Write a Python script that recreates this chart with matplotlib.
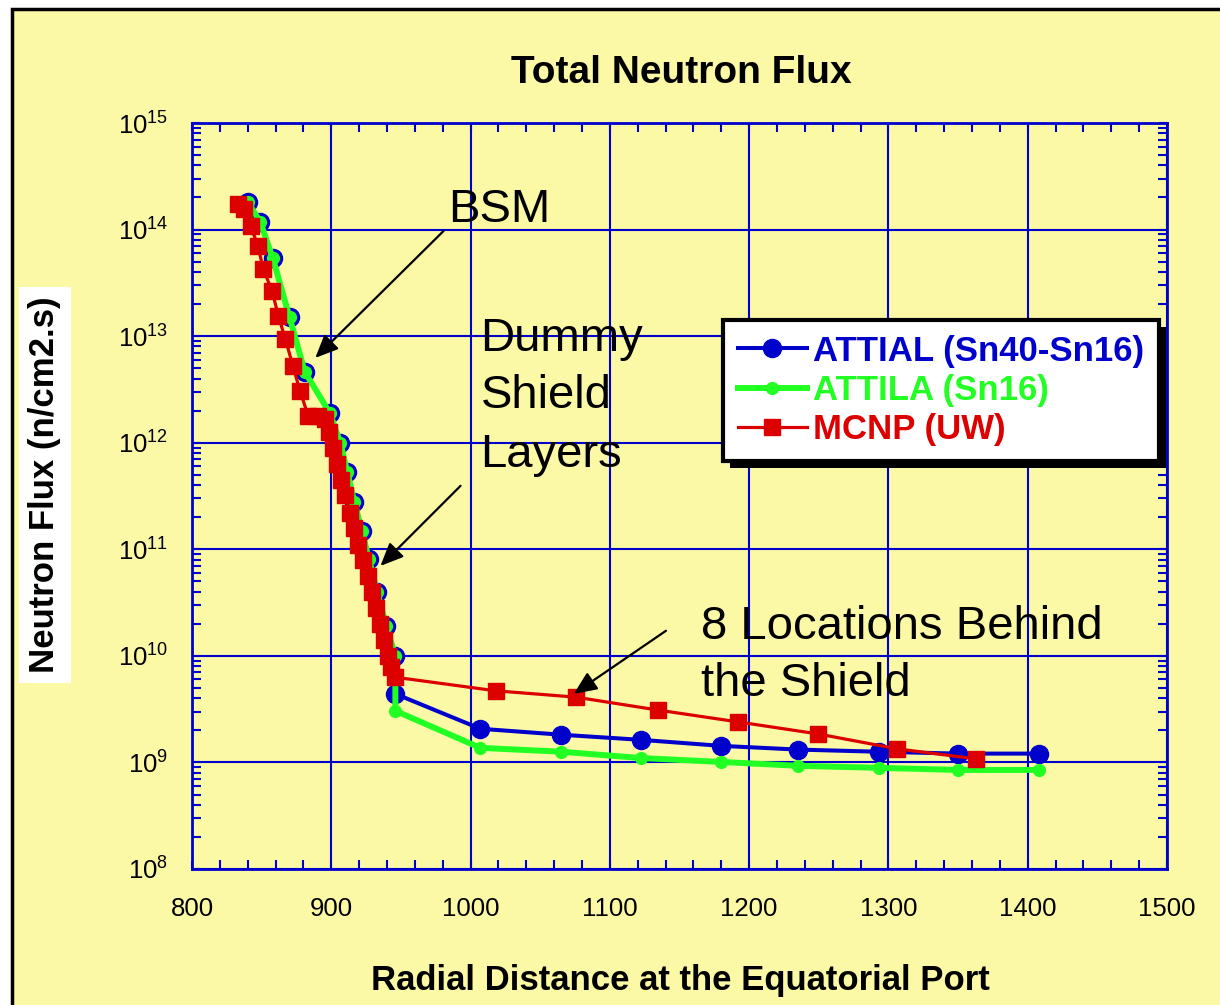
import matplotlib
matplotlib.use('Agg')
import matplotlib.pyplot as plt
from matplotlib.patches import Rectangle
from matplotlib.ticker import MultipleLocator, LogLocator, NullFormatter

plt.rcParams['font.family'] = ['Liberation Sans', 'DejaVu Sans']
plt.rcParams['mathtext.fontset'] = 'custom'
plt.rcParams['mathtext.rm'] = 'Liberation Sans'
plt.rcParams['mathtext.it'] = 'Liberation Sans:italic'
plt.rcParams['mathtext.bf'] = 'Liberation Sans:bold'

# datos
attial_x = [840, 849, 858, 870, 881, 899, 906.5, 911.5, 916.5, 922, 927, 933, 939.5, 946, 946,
            1007, 1065, 1122, 1180, 1235, 1293, 1350, 1408]
attial_y = [1.82e14, 1.18e14, 5.4e13, 1.51e13, 4.6e12, 1.9e12, 1.0e12, 5.3e11, 2.8e11, 1.48e11,
            8.1e10, 4.0e10, 1.9e10, 1.0e10, 4.4e9,
            2.07e9, 1.82e9, 1.63e9, 1.43e9, 1.32e9, 1.26e9, 1.21e9, 1.21e9]

attila_x = [840, 849, 858, 870, 881, 899, 906.5, 911.5, 916.5, 922, 927, 933, 939.5, 946, 946,
            1007, 1065, 1122, 1180, 1235, 1293, 1350, 1408]
attila_y = [1.82e14, 1.18e14, 5.4e13, 1.51e13, 4.6e12, 1.9e12, 1.0e12, 5.3e11, 2.8e11, 1.48e11,
            8.1e10, 4.0e10, 1.9e10, 1.0e10, 3.05e9,
            1.37e9, 1.26e9, 1.10e9, 1.01e9, 9.3e8, 8.9e8, 8.5e8, 8.5e8]

mcnp_x = [833, 837, 842, 847.5, 851, 857.5, 862, 867, 872.5, 877.5, 883.5, 890.5, 895.5,
          898, 901, 904, 907, 910, 913.5, 916, 919, 923, 926, 929, 932, 935, 938, 941, 943, 946,
          1018, 1075.5, 1134.5, 1192, 1249.5, 1306.5, 1363]
mcnp_y = [1.74e14, 1.56e14, 1.08e14, 7.0e13, 4.3e13, 2.65e13, 1.55e13, 9.4e12, 5.25e12, 3.06e12,
          1.78e12, 1.78e12, 1.67e12,
          1.26e12, 8.9e11, 6.3e11, 4.5e11, 3.2e11, 2.2e11, 1.6e11, 1.1e11, 8.0e10, 5.6e10,
          4.0e10, 2.8e10, 2.0e10, 1.4e10, 1.0e10, 7.9e9, 6.3e9,
          4.7e9, 4.1e9, 3.1e9, 2.4e9, 1.85e9, 1.34e9, 1.08e9]

etiquetas = ['ATTIAL (Sn40-Sn16)', 'ATTILA (Sn16)', 'MCNP (UW)']
x_ticks = [800, 900, 1000, 1100, 1200, 1300, 1400, 1500]

AMARILLO = '#FBF8A6'
AZUL = '#0000CC'
VERDE = '#22FF22'
ROJO = '#DD0000'

fig = plt.figure(figsize=(12.2, 10.05), dpi=100, facecolor='white')

# marco exterior amarillo con borde negro
fondo = Rectangle((12 / 1220, -0.02), 1.05, 1 - 9 / 1005 + 0.02,
                  transform=fig.transFigure, facecolor=AMARILLO,
                  edgecolor='black', linewidth=2.5, zorder=-10)
fig.patches.append(fondo)

ax = fig.add_axes([192 / 1220, 1 - 869 / 1005, 975 / 1220, 746 / 1005])
ax.set_facecolor(AMARILLO)

l1, = ax.plot(attial_x, attial_y, '-o', color=AZUL, lw=2.9, ms=13, label=etiquetas[0], zorder=3)
l2, = ax.plot(attila_x, attila_y, '-o', color=VERDE, lw=4.3, ms=8.5, label=etiquetas[1], zorder=4)
l3, = ax.plot(mcnp_x, mcnp_y, '-s', color=ROJO, lw=2.3, ms=11.5, label=etiquetas[2], zorder=5)

ax.set_yscale('log')
ax.set_xlim(800, 1500)
ax.set_ylim(1e8, 1e15)
ax.set_xticks(x_ticks)
ax.xaxis.set_minor_locator(MultipleLocator(20))
ax.yaxis.set_minor_locator(LogLocator(base=10, subs=range(2, 10)))
ax.yaxis.set_minor_formatter(NullFormatter())

ax.grid(True, which='major', color=AZUL, lw=1.5)
ax.set_axisbelow(True)
for s in ax.spines.values():
    s.set_color(AZUL)
    s.set_linewidth(2)
ax.tick_params(which='both', direction='in', top=True, right=True, color=AZUL, width=1.5)
ax.tick_params(which='major', length=6)
ax.tick_params(which='minor', length=6.5)
ax.tick_params(axis='x', which='major', labelsize=18.5, pad=20)
ax.tick_params(axis='y', which='major', labelsize=18.5, pad=17)

# textos
fig.text(681 / 1220, 1 - 73 / 1005, 'Total Neutron Flux', fontsize=28, fontweight='bold',
         ha='center', va='center')
fig.text(680 / 1220, 1 - 990 / 1005, 'Radial Distance at the Equatorial Port', fontsize=25,
         fontweight='bold', ha='center', va='baseline')
fig.text(45 / 1220, 1 - 485 / 1005, 'Neutron Flux (n/cm2.s)', fontsize=25, fontweight='bold',
         rotation=90, ha='center', va='center',
         bbox=dict(facecolor='white', edgecolor='none', pad=7))

# anotaciones
flecha = dict(arrowstyle='-|>,head_length=0.5,head_width=0.22', color='black', lw=1.6,
              mutation_scale=28, shrinkA=0, shrinkB=0)
ax.annotate('', xy=(888.5, 6.25e12), xytext=(980.6, 9.7e13), arrowprops=flecha, zorder=6)
ax.annotate('', xy=(935.3, 6.98e10), xytext=(992.8, 3.94e11), arrowprops=flecha, zorder=6)
ax.annotate('', xy=(1074.1, 4.4e9), xytext=(1140.3, 1.72e10), arrowprops=flecha, zorder=6)

notas = [
    (984.2, 1.18e14, 'BSM'),
    (1007.2, 7.18e12, 'Dummy'),
    (1007.2, 2.10e12, 'Shield'),
    (1007.2, 5.93e11, 'Layers'),
    (1165.5, 1.43e10, '8 Locations Behind'),
    (1165.5, 4.17e9, 'the Shield'),
]
for nx, ny, texto in notas:
    ax.text(nx, ny, texto, fontsize=34, ha='left', va='baseline', zorder=6)

leg = ax.legend(loc='upper left', bbox_to_anchor=((723 - 192) / 975, (869 - 320) / 746),
                borderaxespad=0, prop={'weight': 'bold', 'size': 25}, fancybox=False,
                edgecolor='black', framealpha=1, handlelength=2.0, handletextpad=0.17,
                labelspacing=0.18, borderpad=0.42)
leg.get_frame().set_linewidth(3)
leg.set_zorder(10)
for txt, linea in zip(leg.get_texts(), [l1, l2, l3]):
    txt.set_color(linea.get_color())

# sombra negra del recuadro de leyenda
fig.canvas.draw()
bb = leg.get_window_extent()
sombra = Rectangle((bb.x0 + 7, bb.y0 - 7), bb.width, bb.height, transform=None,
                   facecolor='black', edgecolor='none', zorder=9)
ax.add_patch(sombra)
sombra.set_clip_on(False)

fig.savefig('out.png', dpi=100, facecolor=fig.get_facecolor())
